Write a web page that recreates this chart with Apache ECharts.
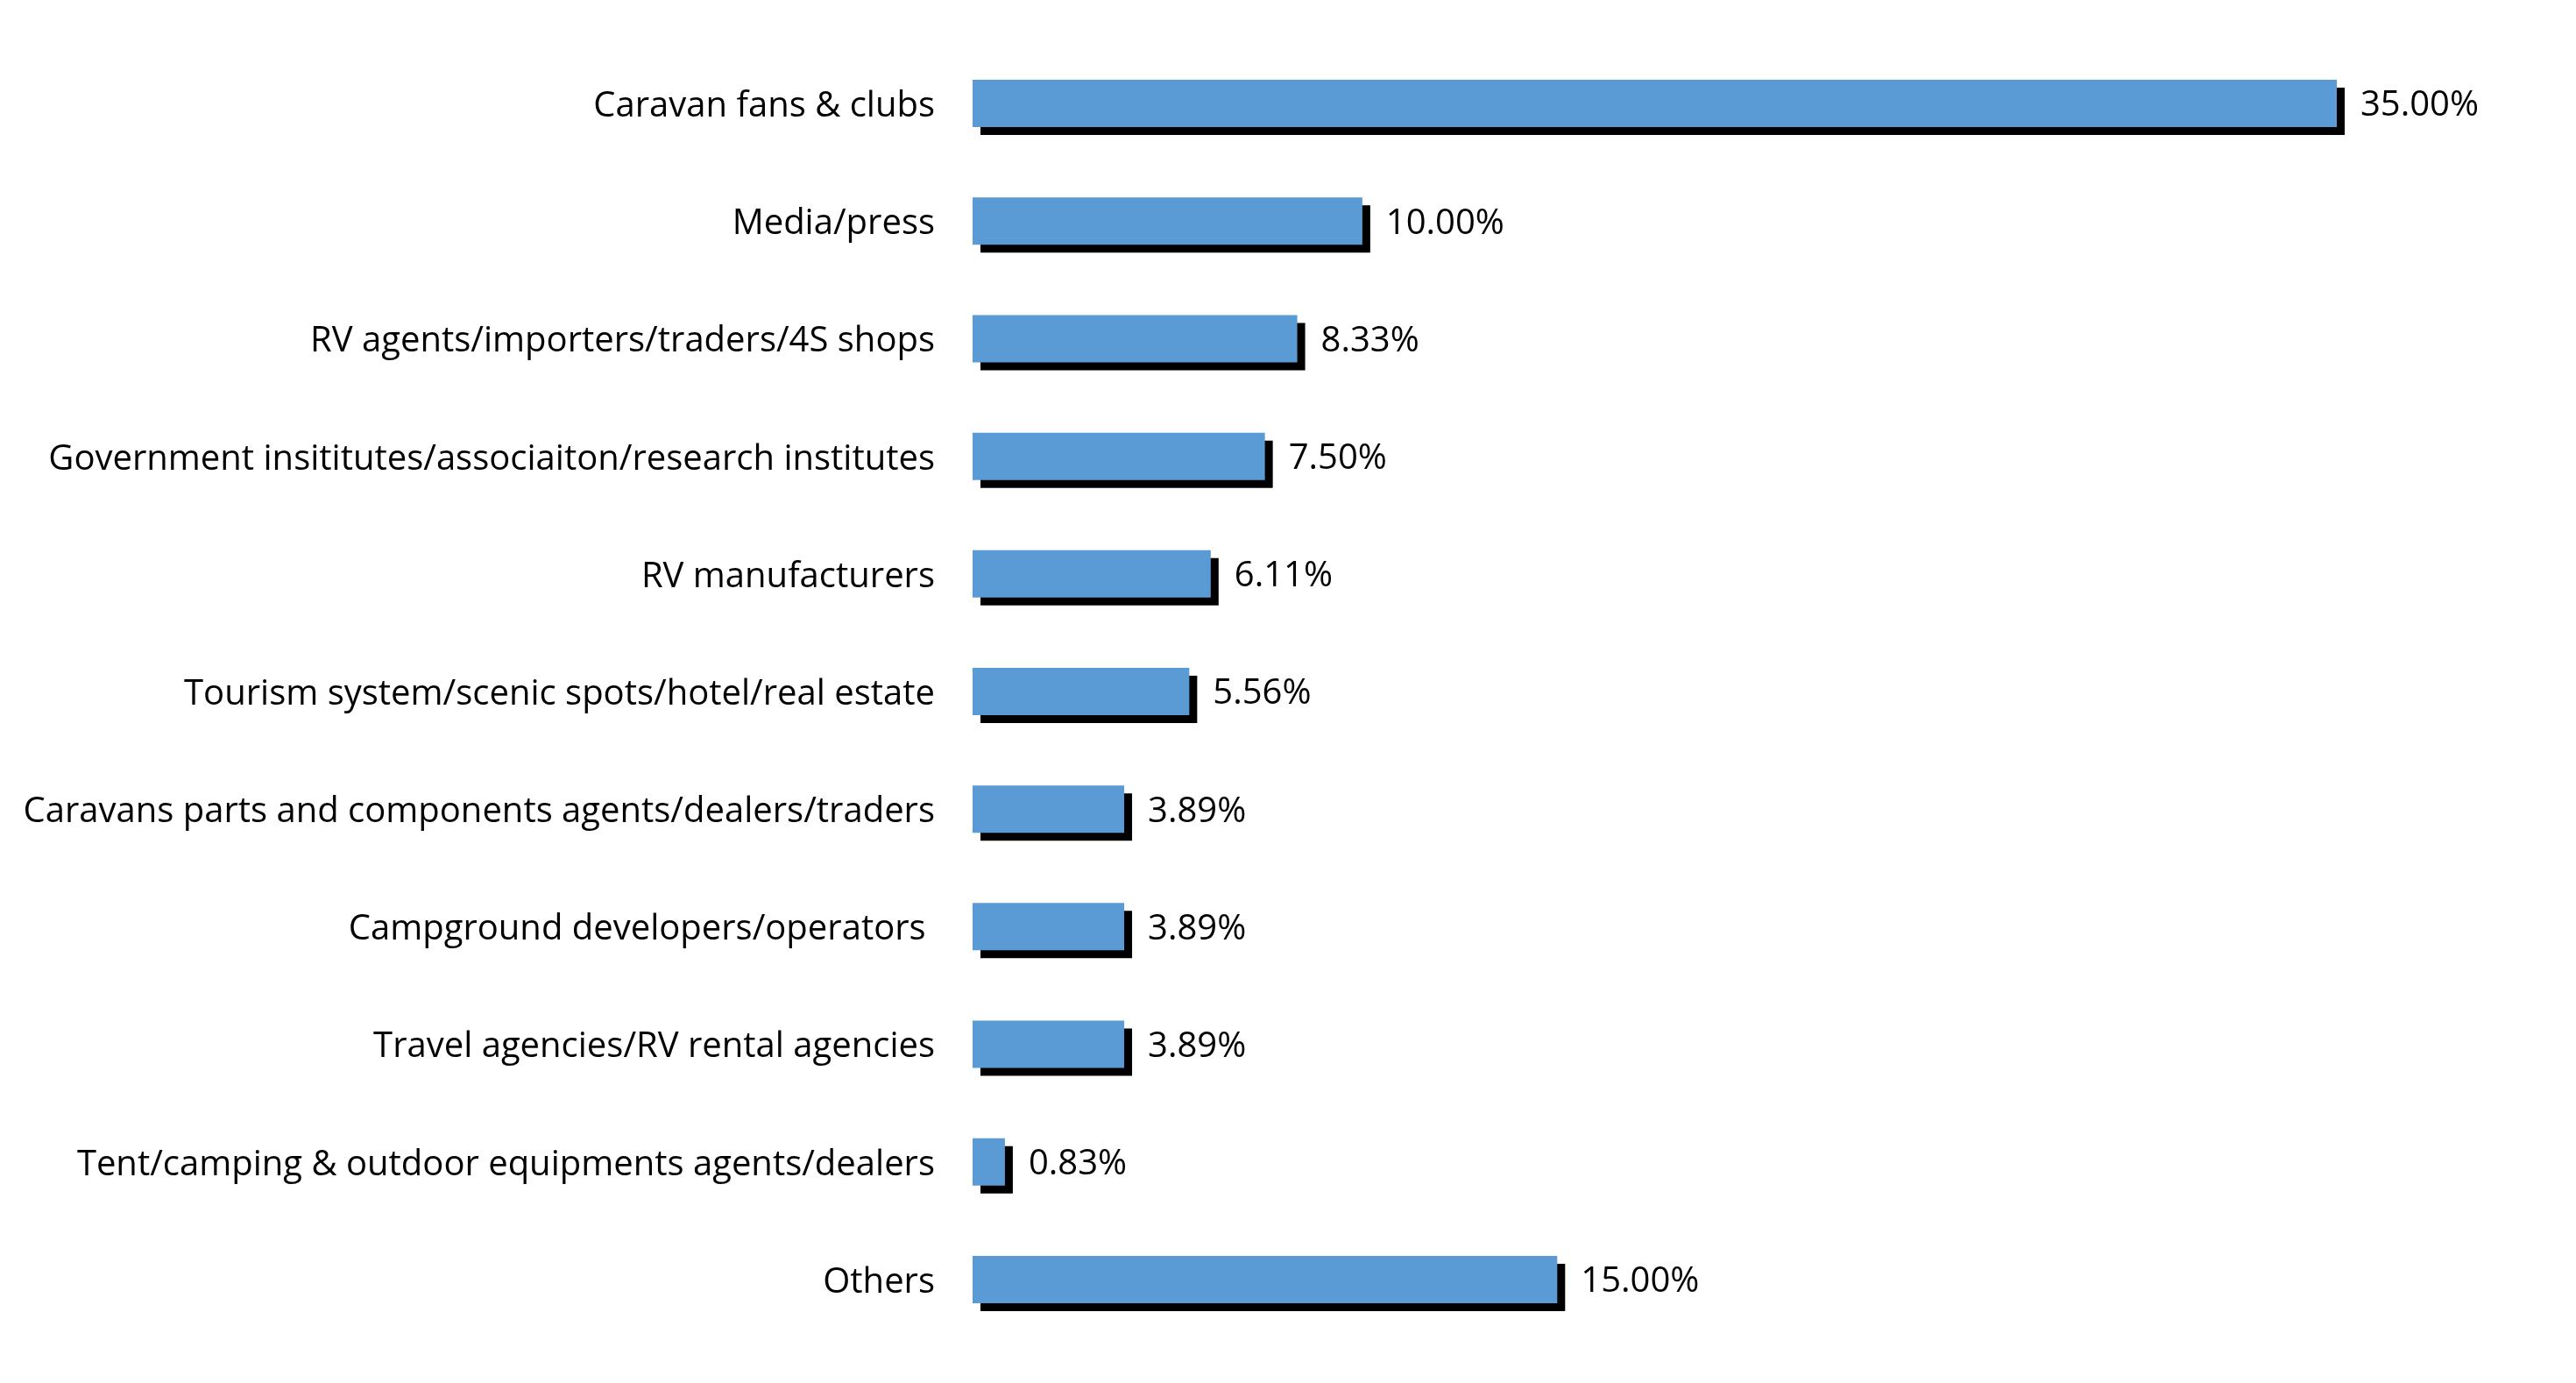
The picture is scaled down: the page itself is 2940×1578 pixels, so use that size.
<!DOCTYPE html>
<html>
<head>
<meta charset="utf-8">
<script src="https://cdn.jsdelivr.net/npm/echarts@6/dist/echarts.min.js"></script>
<style>
html,body{margin:0;padding:0;background:#fff;}
#chart{width:2940px;height:1578px;}
</style>
</head>
<body>
<div id="chart"></div>
<script>
const categories = [
  "Caravan fans & clubs",
  "Media/press",
  "RV agents/importers/traders/4S shops",
  "Government insititutes/associaiton/research institutes",
  "RV manufacturers",
  "Tourism system/scenic spots/hotel/real estate",
  "Caravans parts and components agents/dealers/traders",
  "Campground developers/operators ",
  "Travel agencies/RV rental agencies",
  "Tent/camping & outdoor equipments agents/dealers",
  "Others"
];
const shares = [35.00, 10.00, 8.33, 7.50, 6.11, 5.56, 3.89, 3.89, 3.89, 0.83, 15.00];

const FONT = "'Open Sans', 'Noto Sans', sans-serif";
const chart = echarts.init(document.getElementById('chart'), null, {renderer: 'canvas'});
chart.setOption({
  backgroundColor: '#ffffff',
  animation: false,
  grid: {left: 1110, right: 273, top: 51, bottom: 51, containLabel: false},
  xAxis: {
    type: 'value', min: 0, max: 35, show: false
  },
  yAxis: {
    type: 'category', data: categories, inverse: true,
    axisLine: {show: false}, axisTick: {show: false}, splitLine: {show: false},
    axisLabel: {
      margin: 43, color: '#000', fontSize: 40, fontFamily: FONT,
      formatter: v => '{a|' + v + '}',
      rich: {a: {color: '#000', fontSize: 40, fontFamily: FONT, padding: [7, 0, 0, 0]}}
    }
  },
  series: [{
    type: 'bar', data: shares, barWidth: 54,
    itemStyle: {color: '#5B9BD5', shadowColor: '#000000', shadowBlur: 0, shadowOffsetX: 9, shadowOffsetY: 9},
    label: {
      show: true, position: 'right', distance: 27, color: '#000',
      fontSize: 40, fontFamily: FONT, offset: [0, 3],
      formatter: p => p.value.toFixed(2) + '%'
    }
  }]
});
</script>
</body>
</html>
